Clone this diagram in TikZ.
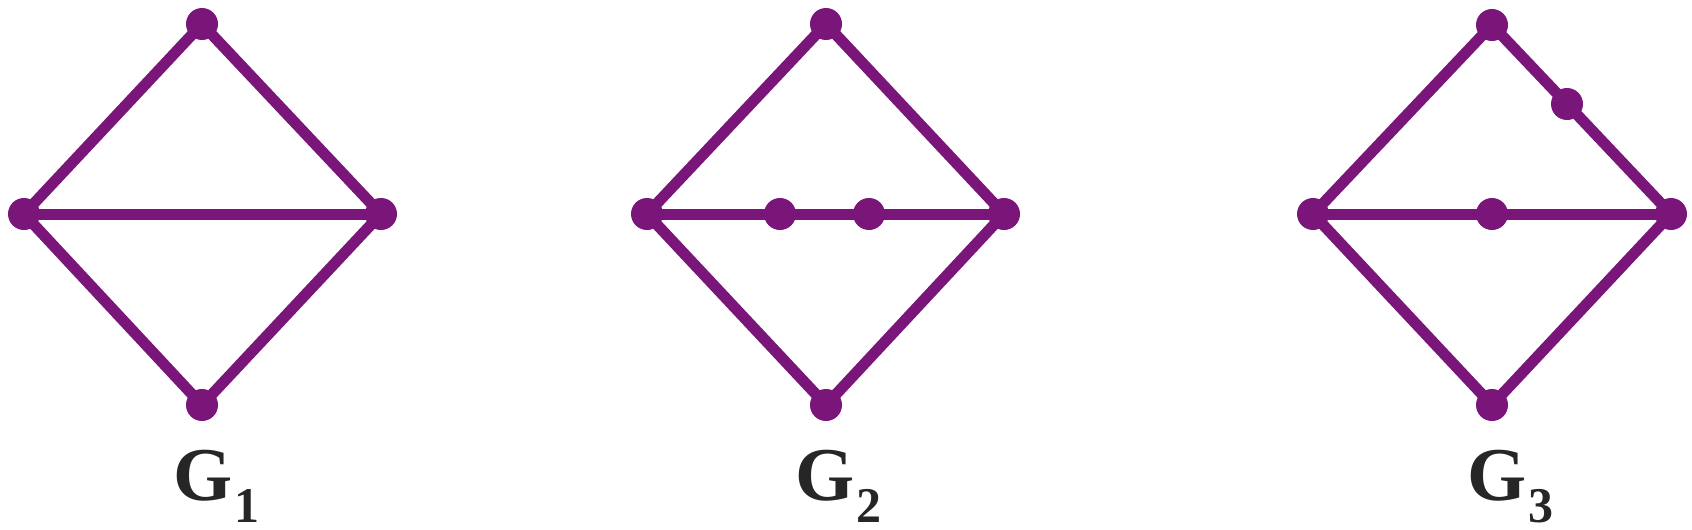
\documentclass[tikz,border=0pt]{standalone}
\usepackage{fontspec}
\setmainfont{Liberation Serif}
\usetikzlibrary{backgrounds}
\definecolor{gpurple}{RGB}{122,22,122}
\definecolor{gtext}{RGB}{38,38,38}
\tikzset{
  vdot/.style={circle, fill=gpurple, inner sep=0pt, minimum size=32pt},
  gedge/.style={draw=gpurple, line width=11pt},
  glabel/.style={anchor=base west, inner sep=0pt, text=gtext, font=\fontsize{76}{76}\selectfont\bfseries}
}
\newcommand{\gsub}[1]{\kern2pt\raisebox{-22pt}{\fontsize{50}{50}\selectfont #1}}
\begin{document}
\begin{tikzpicture}[x=1pt,y=-1pt]
\useasboundingbox (0,0) rectangle (1692,530);
% G1
\node[vdot] (a1) at (202,24) {};
\node[vdot] (b1) at (24,214) {};
\node[vdot] (c1) at (381,214) {};
\node[vdot] (d1) at (202,405) {};
% G2
\node[vdot] (a2) at (826,24) {};
\node[vdot] (b2) at (647,214) {};
\node[vdot] (c2) at (1004,214) {};
\node[vdot] (d2) at (826,405) {};
\node[vdot] (e2) at (780,214) {};
\node[vdot] (f2) at (869,214) {};
% G3
\node[vdot] (a3) at (1492,25) {};
\node[vdot] (b3) at (1313,214) {};
\node[vdot] (c3) at (1671,214) {};
\node[vdot] (d3) at (1492,405) {};
\node[vdot] (e3) at (1492,214) {};
\node[vdot] (f3) at (1567,104) {};
\begin{scope}[on background layer]
\draw[gedge] (a1.center) -- (b1.center) -- (d1.center) -- (c1.center) -- (a1.center);
\draw[gedge] (b1.center) -- (c1.center);
\draw[gedge] (a2.center) -- (b2.center) -- (d2.center) -- (c2.center) -- (a2.center);
\draw[gedge] (b2.center) -- (e2.center) -- (f2.center) -- (c2.center);
\draw[gedge] (a3.center) -- (b3.center) -- (d3.center) -- (c3.center) -- (f3.center) -- (a3.center);
\draw[gedge] (b3.center) -- (e3.center) -- (c3.center);
\end{scope}
\node[glabel] (l1) at (173,500) {G\gsub{1}};
\node[glabel] (l2) at (795,500) {G\gsub{2}};
\node[glabel] (l3) at (1467,500) {G\gsub{3}};
\end{tikzpicture}
\end{document}
